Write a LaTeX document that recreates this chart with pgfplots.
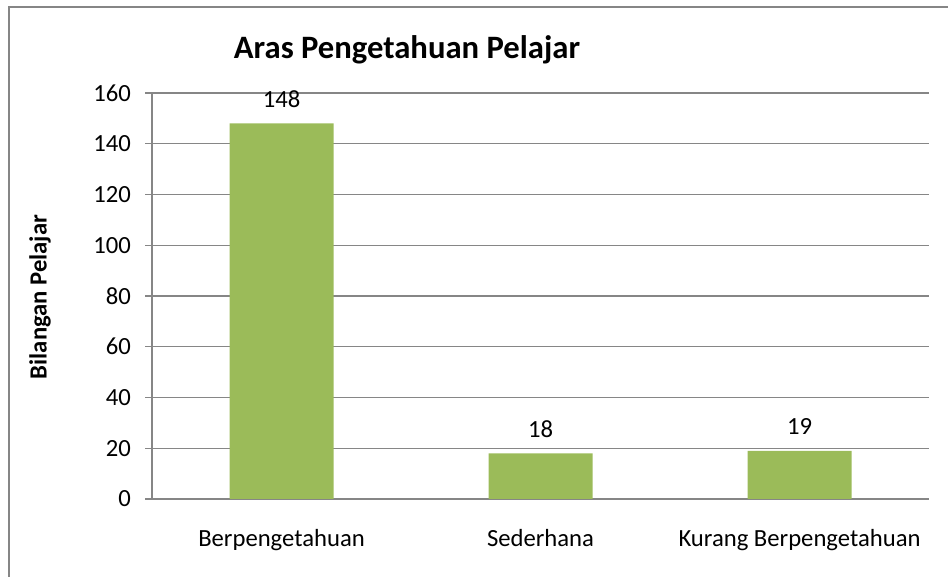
\documentclass[border=0pt]{standalone}
\usepackage{pgfplots}
\pgfplotsset{compat=1.18}
\usepackage{fontspec}
\setmainfont{Carlito}
\definecolor{bargreen}{HTML}{9BBB59}
\definecolor{linegray}{HTML}{868686}
\begin{document}
\begin{tikzpicture}
\useasboundingbox (0,0) rectangle (711pt,432.75pt);
\draw[linegray, line width=1.5pt] (6.75pt,-10pt) -- (6.75pt,427.5pt) -- (720pt,427.5pt);
\begin{axis}[
  at={(114pt,58.5pt)}, anchor=south west,
  scale only axis, width=582.75pt, height=304.5pt,
  xmin=-0.5, xmax=2.5, ymin=0, ymax=160,
  ytick={0,20,...,160},
  xtick={0,1,2},
  xticklabels={Berpengetahuan,Sederhana,Kurang Berpengetahuan},
  major x tick style={draw=none},
  extra x ticks={-0.5,0.5,1.5,2.5},
  extra x tick labels={},
  extra x tick style={major tick length=5.25pt, tick style={draw=linegray, line width=1pt}},
  tick align=outside,
  major tick length=5.25pt,
  tick style={draw=linegray, line width=1pt},
  axis x line*=bottom, axis y line*=left,
  axis line style={draw=linegray, line width=1pt},
  ymajorgrids, grid style={draw=linegray, line width=0.9pt},
  ticklabel style={font=\fontsize{18.5}{22}\selectfont},
  /pgf/number format/assume math mode=true,
  xticklabel style={yshift=-14pt},
  yticklabel style={xshift=-7pt},
  ybar, bar width=78pt,
  nodes near coords,
  nodes near coords style={font=\fontsize{18.5}{22}\selectfont, black, yshift=8.5pt},
  clip=false,
]
\addplot[fill=bargreen, draw=none] coordinates {(0,148) (1,18) (2,19)};
\end{axis}
\node[font=\bfseries\fontsize{24.5}{29}\selectfont] at (305.25pt,395.25pt) {Aras Pengetahuan Pelajar};
\node[font=\bfseries\fontsize{18.5}{22}\selectfont, rotate=90] at (30pt,210pt) {Bilangan Pelajar};
\end{tikzpicture}
\end{document}
